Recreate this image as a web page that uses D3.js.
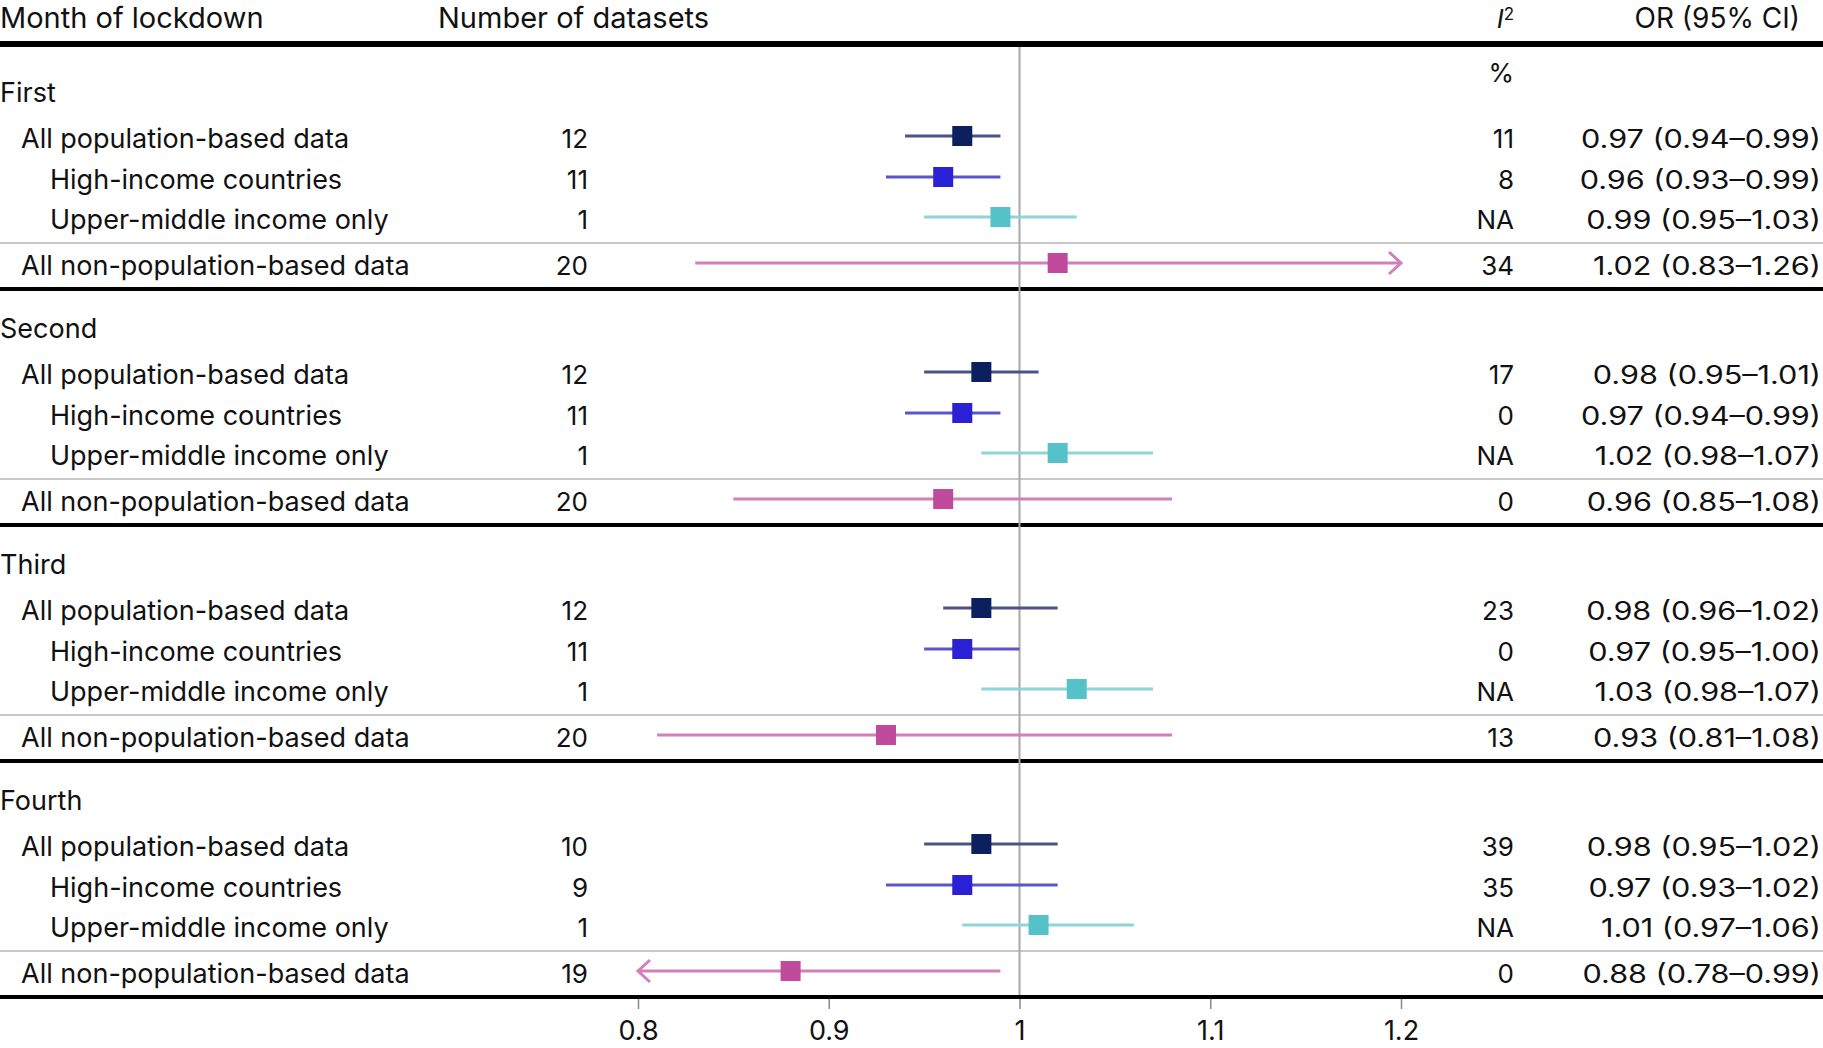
<!DOCTYPE html>
<html>
<head>
<meta charset="utf-8">
<script src="https://cdn.jsdelivr.net/npm/d3@7"></script>
<style>
  body { margin: 0; background: #fff; }
  svg { display: block; font-family: Inter, "Noto Sans", sans-serif; }
</style>
</head>
<body>
<svg id="chart"></svg>
<script>
// Data
var months = ["First", "Second", "Third", "Fourth"];
var subgroups = [
  "All population-based data",
  "High-income countries",
  "Upper-middle income only",
  "All non-population-based data"
];
var nDatasets = [
  [12, 11, 1, 20],
  [12, 11, 1, 20],
  [12, 11, 1, 20],
  [10, 9, 1, 19]
];
var iSquared = [
  ["11", "8", "NA", "34"],
  ["17", "0", "NA", "0"],
  ["23", "0", "NA", "13"],
  ["39", "35", "NA", "0"]
];
var orEst = [
  [0.97, 0.96, 0.99, 1.02],
  [0.98, 0.97, 1.02, 0.96],
  [0.98, 0.97, 1.03, 0.93],
  [0.98, 0.97, 1.01, 0.88]
];
var ciLow = [
  [0.94, 0.93, 0.95, 0.83],
  [0.95, 0.94, 0.98, 0.85],
  [0.96, 0.95, 0.98, 0.81],
  [0.95, 0.93, 0.97, 0.78]
];
var ciHigh = [
  [0.99, 0.99, 1.03, 1.26],
  [1.01, 0.99, 1.07, 1.08],
  [1.02, 1.0, 1.07, 1.08],
  [1.02, 1.02, 1.06, 0.99]
];
var xTicks = [0.8, 0.9, 1, 1.1, 1.2];

// Styling per subgroup
var indent = [21, 50, 50, 21];
var boxColor = ["#0c1f5e", "#2a20d4", "#55c1c8", "#c04a9c"];
var lineColor = ["#4b5583", "#5a55c9", "#8fd4d9", "#d27fba"];

var W = 1823, H = 1048;
var fs = 27;

var svg = d3.select("#chart").attr("width", W).attr("height", H);

var x = d3.scaleLinear().domain([0.8, 1.2]).range([638, 1401]);

// each month is one band, rows sit at fixed offsets inside it
var ySec = d3.scaleBand().domain(months).range([53, 997]);
var headOff = 40;
var rowOff = [86, 127, 167, 213];
var thinOff = 190;

var rows = [];
months.forEach(function (m, s) {
  subgroups.forEach(function (g, r) {
    rows.push({
      s: s, r: r, label: g,
      n: nDatasets[s][r], i2: iSquared[s][r],
      est: orEst[s][r], lo: ciLow[s][r], hi: ciHigh[s][r],
      y: ySec(m) + rowOff[r]
    });
  });
});

var f2 = d3.format(".2f");

// Header
var head = svg.append("g").style("font-size", "29px").attr("fill", "#111");
head.append("text").attr("x", 0).attr("y", 18).attr("dy", "0.35em").text("Month of lockdown");
head.append("text").attr("x", 438).attr("y", 18).attr("dy", "0.35em").text("Number of datasets");
var i2h = head.append("text").attr("x", 1514).attr("y", 19).attr("dy", "0.35em")
  .attr("text-anchor", "end").style("font-size", "26px");
i2h.append("tspan").style("font-style", "italic").text("I");
i2h.append("tspan").attr("dy", "-0.5em").style("font-size", "17px").text("2");
head.append("text").attr("x", 1800).attr("y", 18).attr("dy", "0.35em")
  .attr("text-anchor", "end").style("font-size", "28px").text("OR (95% CI)");
head.append("text").attr("x", 1514).attr("y", 73).attr("dy", "0.35em")
  .attr("text-anchor", "end").style("font-size", "26px").text("%");

// Rules
svg.append("line").attr("x1", 0).attr("x2", W).attr("y1", 44).attr("y2", 44)
  .attr("stroke", "#000").attr("stroke-width", 6);

months.forEach(function (m) {
  svg.append("line").attr("x1", 0).attr("x2", W)
    .attr("y1", ySec(m) + thinOff).attr("y2", ySec(m) + thinOff)
    .attr("stroke", "#c8c8c8").attr("stroke-width", 2);
  svg.append("line").attr("x1", 0).attr("x2", W)
    .attr("y1", ySec(m) + ySec.bandwidth()).attr("y2", ySec(m) + ySec.bandwidth())
    .attr("stroke", "#000").attr("stroke-width", 4);
});

// Reference line at OR = 1
svg.append("line").attr("x1", x(1)).attr("x2", x(1)).attr("y1", 47).attr("y2", 995)
  .attr("stroke", "#a8a8a8").attr("stroke-width", 2);

// Section headings
svg.append("g").selectAll("text").data(months).join("text")
  .attr("x", 0).attr("y", function (d) { return ySec(d) + headOff; })
  .attr("dy", "0.35em").style("font-size", fs + "px").attr("fill", "#111")
  .text(function (d) { return d; });

// Table text
var txt = svg.append("g").style("font-size", fs + "px").attr("fill", "#111");
txt.selectAll(".lab").data(rows).join("text").attr("class", "lab")
  .attr("x", function (d) { return indent[d.r]; })
  .attr("y", function (d) { return d.y; }).attr("dy", "0.35em")
  .text(function (d) { return d.label; });
txt.selectAll(".n").data(rows).join("text").attr("class", "n")
  .attr("x", 588).attr("y", function (d) { return d.y; }).attr("dy", "0.35em")
  .attr("text-anchor", "end").style("font-size", "26px").text(function (d) { return d.n; });
txt.selectAll(".i2").data(rows).join("text").attr("class", "i2")
  .attr("x", 1514).attr("y", function (d) { return d.y; }).attr("dy", "0.35em")
  .attr("text-anchor", "end").style("font-size", "26px").text(function (d) { return d.i2; });
// OR column uses a wide face in the original: stretch Inter horizontally
txt.selectAll(".or").data(rows).join("text").attr("class", "or")
  .attr("transform", function (d) { return "translate(1821," + d.y + ") scale(1.2,1)"; })
  .attr("dy", "0.35em").attr("text-anchor", "end").style("font-size", "25.5px")
  .text(function (d) { return f2(d.est) + " (" + f2(d.lo) + "\u2013" + f2(d.hi) + ")"; });

// CI lines, clipped to the axis range with an arrow head
var dom = x.domain();
var marks = svg.append("g");
marks.selectAll(".ci").data(rows).join("line").attr("class", "ci")
  .attr("x1", function (d) { return x(Math.max(d.lo, dom[0])); })
  .attr("x2", function (d) { return x(Math.min(d.hi, dom[1])); })
  .attr("y1", function (d) { return d.y - 3; }).attr("y2", function (d) { return d.y - 3; })
  .attr("stroke", function (d) { return lineColor[d.r]; }).attr("stroke-width", 3);

marks.selectAll(".arr").data(rows.filter(function (d) { return d.lo < dom[0] || d.hi > dom[1]; }))
  .join("path").attr("class", "arr")
  .attr("d", function (d) {
    var yy = d.y - 3;
    if (d.hi > dom[1]) {
      var tx = x(dom[1]);
      return "M" + (tx - 12) + "," + (yy - 11) + "L" + tx + "," + yy + "L" + (tx - 12) + "," + (yy + 11);
    }
    var lx = x(dom[0]);
    return "M" + (lx + 12) + "," + (yy - 11) + "L" + lx + "," + yy + "L" + (lx + 12) + "," + (yy + 11);
  })
  .attr("fill", "none").attr("stroke", function (d) { return lineColor[d.r]; })
  .attr("stroke-width", 3);

var box = 20;
marks.selectAll(".box").data(rows).join("rect").attr("class", "box")
  .attr("x", function (d) { return x(d.est) - box / 2; })
  .attr("y", function (d) { return d.y - 3 - box / 2; })
  .attr("width", box).attr("height", box)
  .attr("fill", function (d) { return boxColor[d.r]; });

// Bottom axis
var axis = svg.append("g").attr("transform", "translate(0," + 999 + ")")
  .call(d3.axisBottom(x).tickValues(xTicks).tickSize(10).tickPadding(12)
    .tickFormat(d3.format("")));
axis.select(".domain").remove();
axis.selectAll(".tick line").attr("stroke", "#888").attr("stroke-width", 1.5);
axis.selectAll(".tick text").style("font-size", "27px").style("font-family", "Inter, sans-serif").attr("fill", "#111");
</script>
</body>
</html>
